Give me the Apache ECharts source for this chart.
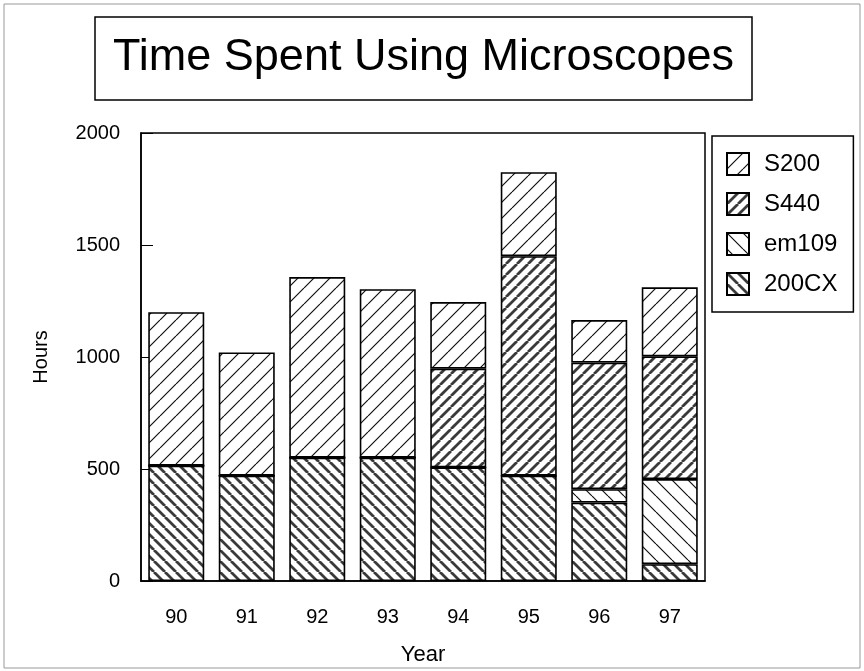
<!DOCTYPE html>
<html>
<head>
<meta charset="utf-8">
<script src="https://cdn.jsdelivr.net/npm/echarts@6/dist/echarts.min.js"></script>
<style>
html,body{margin:0;padding:0;background:#fff;}
#chart{width:864px;height:671px;}
</style>
</head>
<body>
<div id="chart"></div>
<script>
// ---- data ----
var years = ['90', '91', '92', '93', '94', '95', '96', '97'];
var s200CX = [515, 470, 551, 551, 507, 470, 350, 75];
var em109 = [0, 0, 0, 0, 0, 0, 60, 380];
var s440 = [0, 0, 0, 0, 441, 980, 565, 548];
var s200 = [685, 550, 806, 752, 297, 375, 190, 308];
var yTicks = [0, 500, 1000, 1500, 2000];
var legendOrder = ['S200', 'S440', 'em109', '200CX'];

function makePattern(p, forward, width, color) {
  var c = document.createElement('canvas');
  c.width = p; c.height = p;
  var ctx = c.getContext('2d');
  ctx.fillStyle = '#fff';
  ctx.fillRect(0, 0, p, p);
  ctx.strokeStyle = color;
  ctx.lineWidth = width;
  ctx.beginPath();
  for (var k = -1; k <= 1; k++) {
    if (forward) {
      ctx.moveTo(k * p, p); ctx.lineTo(k * p + p, 0);
    } else {
      ctx.moveTo(k * p, 0); ctx.lineTo(k * p + p, p);
    }
  }
  ctx.stroke();
  return { image: c, repeat: 'repeat' };
}

var fills = {
  'S200': makePattern(16, true, 1.2, '#111'),
  'S440': makePattern(11, true, 2.8, '#3a3a3a'),
  'em109': makePattern(16, false, 1.2, '#111'),
  '200CX': makePattern(11, false, 2.8, '#3a3a3a')
};

function mk(name, data) {
  return {
    name: name,
    type: 'bar',
    stack: 'total',
    barWidth: 56,
    data: data,
    itemStyle: { color: fills[name], borderColor: '#000', borderWidth: 1.6 }
  };
}

var chart = echarts.init(document.getElementById('chart'), null, { renderer: 'canvas' });
chart.setOption({
  animation: false,
  backgroundColor: '#fff',
  textStyle: { fontFamily: 'Liberation Sans, Arial, sans-serif' },
  title: {
    text: 'Time Spent Using Microscopes',
    left: 95,
    top: 17,
    padding: [16, 18, 17, 18],
    borderColor: '#000',
    borderWidth: 1.5,
    textStyle: { fontSize: 45, fontWeight: 'normal', color: '#000', lineHeight: 50, fontFamily: 'Liberation Sans, Arial, sans-serif' }
  },
  legend: {
    orient: 'vertical',
    left: 712,
    top: 136,
    data: legendOrder,
    itemWidth: 22,
    itemHeight: 22,
    itemGap: 16,
    padding: [16, 16, 16, 14],
    borderColor: '#000',
    borderWidth: 1.5,
    icon: 'rect',
    textStyle: { fontSize: 24, color: '#000', padding: [0, 0, 0, 10] }
  },
  grid: {
    left: 141, right: 159, top: 133, bottom: 88,
    show: true, borderColor: '#000', borderWidth: 1.5, backgroundColor: 'transparent'
  },
  xAxis: {
    type: 'category',
    data: years,
    name: 'Year',
    nameLocation: 'middle',
    nameGap: 63,
    nameTextStyle: { fontSize: 22, color: '#000' },
    axisLine: { lineStyle: { color: '#000', width: 1.5 } },
    axisTick: { inside: true, length: 8, alignWithLabel: true, lineStyle: { color: '#000' } },
    axisLabel: { fontSize: 20, color: '#000', margin: 26 }
  },
  yAxis: {
    type: 'value',
    min: yTicks[0],
    max: yTicks[yTicks.length - 1],
    interval: yTicks[1] - yTicks[0],
    name: 'Hours',
    nameLocation: 'middle',
    nameGap: 90,
    nameTextStyle: { fontSize: 20, color: '#000' },
    axisLine: { show: true, lineStyle: { color: '#000', width: 1.5 } },
    axisTick: { show: true, inside: true, length: 12, lineStyle: { color: '#000' } },
    axisLabel: { fontSize: 20, color: '#000', margin: 21, formatter: function (v) { return String(v); } },
    splitLine: { show: false }
  },
  graphic: [{
    type: 'rect',
    shape: { x: 4, y: 4, width: 856, height: 664 },
    style: { fill: 'none', stroke: '#999', lineWidth: 1 },
    silent: true,
    z: -1
  }],
  series: [mk('200CX', s200CX), mk('em109', em109), mk('S440', s440), mk('S200', s200)]
});
</script>
</body>
</html>
